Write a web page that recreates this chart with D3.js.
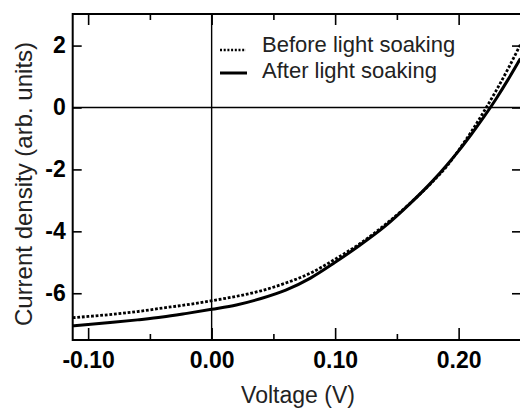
<!DOCTYPE html>
<html>
<head>
<meta charset="utf-8">
<script src="https://cdn.jsdelivr.net/npm/d3@7"></script>
<style>
  body { margin: 0; background: #fff; }
  svg { display: block; font-family: "Liberation Sans", Arial, sans-serif; }
</style>
</head>
<body>
<svg width="520" height="408"></svg>
<script>
// data
var voltage = [-0.1125, -0.10, -0.08, -0.06, -0.04, -0.02, 0, 0.02, 0.04, 0.06, 0.08, 0.10,
               0.12, 0.14, 0.16, 0.18, 0.19, 0.20, 0.21, 0.22, 0.23, 0.24, 0.25];
var before = [-6.79, -6.75, -6.68, -6.59, -6.48, -6.37, -6.24, -6.10, -5.92, -5.67, -5.35, -4.90,
              -4.40, -3.80, -3.12, -2.35, -1.92, -1.38, -0.80, -0.16, 0.52, 1.25, 2.03];
var after = [-7.05, -7.01, -6.94, -6.86, -6.77, -6.65, -6.52, -6.38, -6.17, -5.90, -5.51, -5.00,
             -4.45, -3.85, -3.13, -2.33, -1.88, -1.40, -0.88, -0.33, 0.26, 0.90, 1.58];
var xMajor = [-0.10, 0.00, 0.10, 0.20];
var xMinor = [-0.05, 0.05, 0.15, 0.25];
var yMajor = [-6, -4, -2, 0, 2];
var legendLabels = ['Before light soaking', 'After light soaking'];

var svg = d3.select('svg');
var plotL = 72.7, plotR = 521, plotT = 14, plotB = 340;

var x = d3.scaleLinear().domain([-0.1125, 0.2505]).range([plotL, plotR]);
var y = d3.scaleLinear().domain([-7.51, 3.02]).range([plotB, plotT]);

// clip for curves
svg.append('clipPath').attr('id', 'clip')
   .append('rect')
     .attr('x', plotL).attr('y', plotT)
     .attr('width', plotR - plotL).attr('height', plotB - plotT);

// zero lines
svg.append('line')
   .attr('x1', x(0)).attr('x2', x(0))
   .attr('y1', plotT).attr('y2', plotB)
   .attr('stroke', '#000').attr('stroke-width', 1.4);
svg.append('line')
   .attr('x1', plotL).attr('x2', plotR)
   .attr('y1', y(0)).attr('y2', y(0))
   .attr('stroke', '#000').attr('stroke-width', 1.4);

// axes, ticks pointing inward
function styleAxis(g) {
    g.select('.domain').remove();
    g.selectAll('.tick line').attr('stroke', '#000').attr('stroke-width', 1.6);
    g.selectAll('text').attr('fill', '#000');
}

svg.append('g')
   .attr('transform', `translate(0, ${plotB})`)
   .call(d3.axisBottom(x).tickValues(xMajor).tickSizeInner(-12).tickSizeOuter(0)
           .tickPadding(11.5).tickFormat(d => d.toFixed(2)))
   .call(styleAxis)
   .selectAll('text')
     .attr('font-size', 23).attr('font-weight', 'bold')
     .attr('font-family', '"Liberation Sans", Arial, sans-serif');

svg.append('g')
   .attr('transform', `translate(0, ${plotB})`)
   .call(d3.axisBottom(x).tickValues(xMinor).tickSizeInner(-6).tickSizeOuter(0).tickFormat(''))
   .call(styleAxis);

svg.append('g')
   .attr('transform', `translate(0, ${plotT})`)
   .call(d3.axisTop(x).tickValues(xMajor).tickSizeInner(-11).tickSizeOuter(0).tickFormat(''))
   .call(styleAxis);

svg.append('g')
   .attr('transform', `translate(0, ${plotT})`)
   .call(d3.axisTop(x).tickValues(xMinor).tickSizeInner(-6).tickSizeOuter(0).tickFormat(''))
   .call(styleAxis);

svg.append('g')
   .attr('transform', `translate(${plotL}, 0)`)
   .call(d3.axisLeft(y).tickValues(yMajor).tickSizeInner(-9).tickSizeOuter(0)
           .tickPadding(7).tickFormat(d => String(d)))
   .call(styleAxis)
   .selectAll('text')
     .attr('font-size', 23).attr('font-weight', 'bold')
     .attr('font-family', '"Liberation Sans", Arial, sans-serif');

svg.append('g')
   .attr('transform', `translate(520, 0)`)
   .call(d3.axisRight(y).tickValues(yMajor).tickSizeInner(-8).tickSizeOuter(0).tickFormat(''))
   .call(styleAxis);

// frame
svg.append('rect')
   .attr('x', plotL).attr('y', plotT)
   .attr('width', plotR - plotL).attr('height', plotB - plotT)
   .attr('fill', 'none').attr('stroke', '#000').attr('stroke-width', 2);

// curves
var line = d3.line()
    .x(d => x(d[0]))
    .y(d => y(d[1]))
    .curve(d3.curveMonotoneX);

var curves = svg.append('g').attr('clip-path', 'url(#clip)');
curves.append('path')
      .attr('d', line(d3.zip(voltage, after)))
      .attr('fill', 'none').attr('stroke', '#000').attr('stroke-width', 3);
curves.append('path')
      .attr('d', line(d3.zip(voltage, before)))
      .attr('fill', 'none').attr('stroke', '#000').attr('stroke-width', 2.8)
      .attr('stroke-dasharray', '2.8,1.8');

// legend
var legend = svg.append('g');
legend.append('line')
      .attr('x1', 220).attr('x2', 246).attr('y1', 50).attr('y2', 50)
      .attr('stroke', '#000').attr('stroke-width', 2.5).attr('stroke-dasharray', '2,1.7');
legend.append('line')
      .attr('x1', 220).attr('x2', 247).attr('y1', 73).attr('y2', 73)
      .attr('stroke', '#000').attr('stroke-width', 3);
legend.selectAll('text')
      .data(legendLabels)
      .enter().append('text')
        .attr('x', 262)
        .attr('y', (d, i) => 52 + i * 26)
        .attr('font-size', 22)
        .attr('fill', '#222')
        .text(d => d);

// axis titles
svg.append('text')
   .attr('x', 298).attr('y', 403)
   .attr('text-anchor', 'middle')
   .attr('font-size', 23)
   .attr('fill', '#222')
   .text('Voltage (V)');

svg.append('text')
   .attr('transform', 'translate(32, 184) rotate(-90)')
   .attr('text-anchor', 'middle')
   .attr('font-size', 24)
   .attr('fill', '#222')
   .text('Current density (arb. units)');
</script>
</body>
</html>
